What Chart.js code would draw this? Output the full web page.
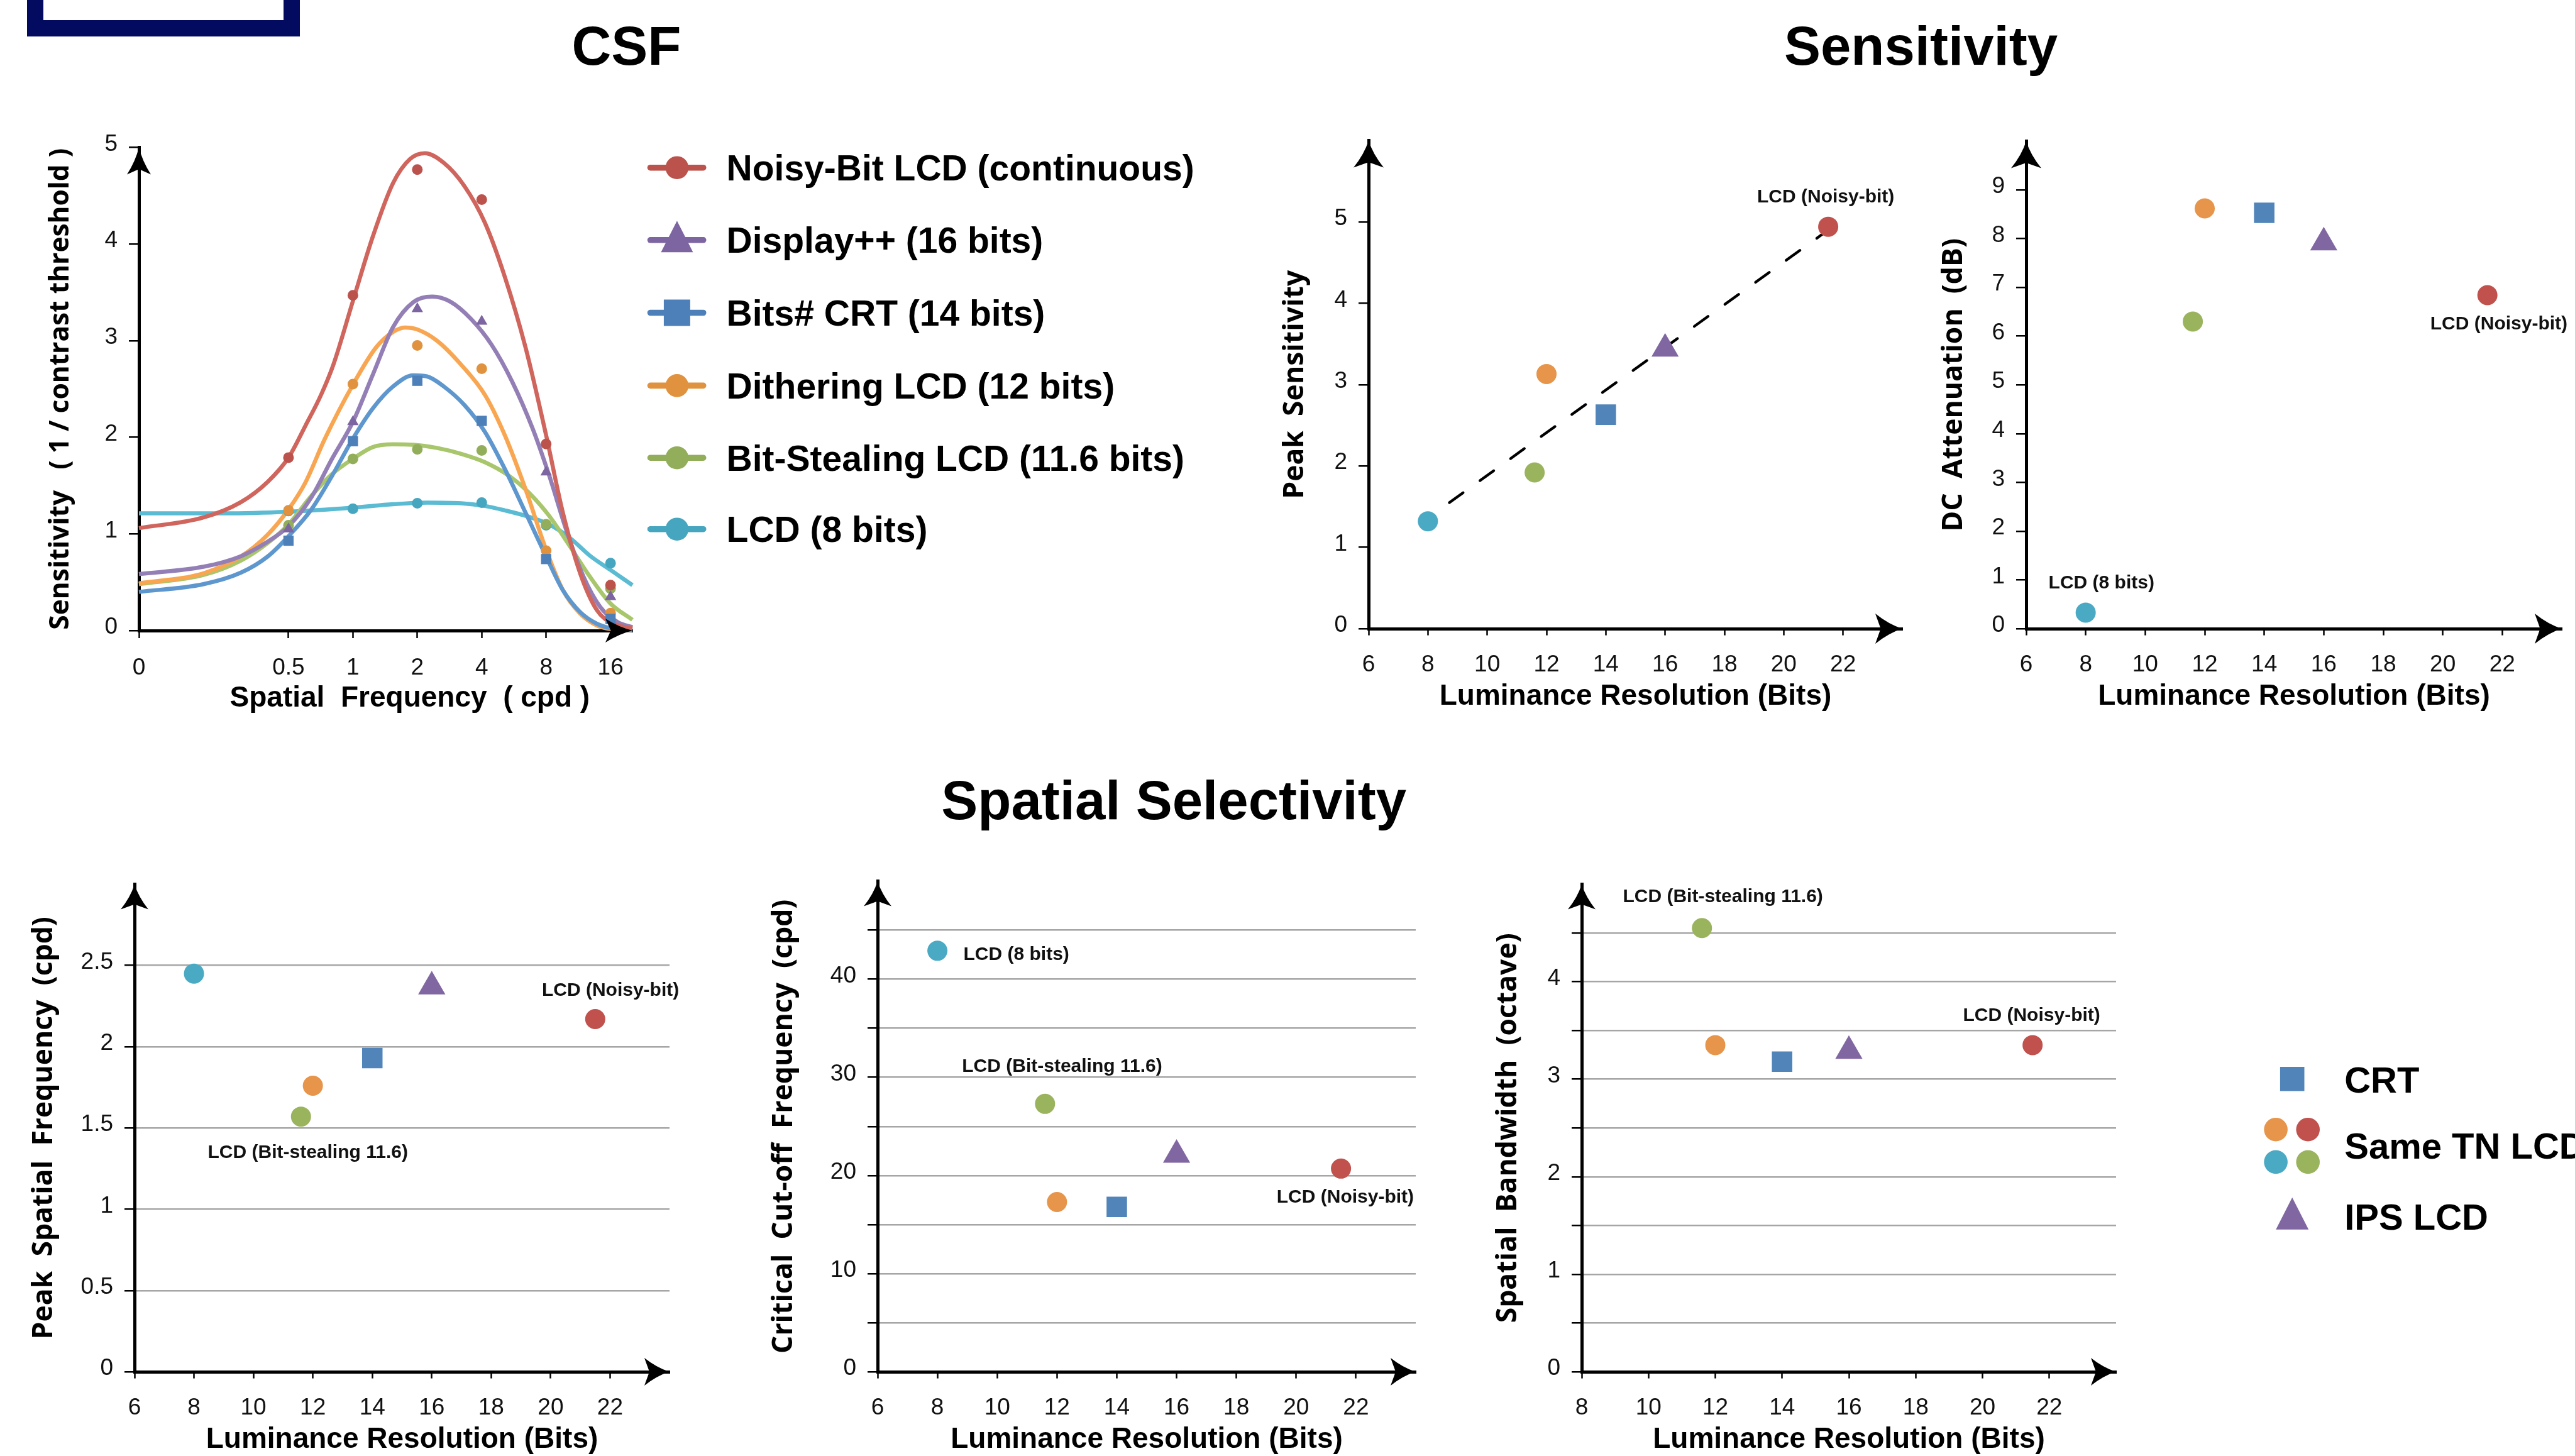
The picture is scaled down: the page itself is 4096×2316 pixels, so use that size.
<!DOCTYPE html>
<html>
<head>
<meta charset="utf-8">
<script src="https://cdn.jsdelivr.net/npm/chart.js@4.4.1/dist/chart.umd.min.js"></script>
<style>
  html, body { margin: 0; padding: 0; background: #fff; }
  #page { position: relative; width: 4096px; height: 2316px; overflow: hidden; background: #fff; }
  #overlay { position: absolute; left: 0; top: 0; }
  .panel { position: absolute; }
</style>
</head>
<body>
<div id="page">
  <canvas id="overlay" width="4096" height="2316"></canvas>
</div>
<script>
// ---------- data ----------

// CSF panel: x is spatial frequency (cpd, log axis), y is sensitivity
const csfFreqTicks = [0.1, 0.5, 1, 2, 4, 8, 16];
const csfFreqLabels = ['0', '0.5', '1', '2', '4', '8', '16'];
const csfSensTicks = [0, 1, 2, 3, 4, 5];
const csfSensLabels = ['0', '1', '2', '3', '4', '5'];

const csfNames = ['Noisy-Bit LCD (continuous)', 'Display++ (16 bits)', 'Bits# CRT (14 bits)',
                  'Dithering LCD (12 bits)', 'Bit-Stealing LCD (11.6 bits)', 'LCD (8 bits)'];

const measuredFreq = [0.5, 1, 2, 4, 8, 16];
const noisyMeasured    = [1.79, 3.47, 4.77, 4.46, 1.93, 0.47];
const displayMeasured  = [1.05, 2.16, 3.33, 3.20, 1.64, 0.35];
const crtMeasured      = [0.93, 1.96, 2.585, 2.17, 0.74, 0.12];
const ditherMeasured   = [1.244, 2.55, 2.95, 2.71, 0.826, 0.18];
const stealMeasured    = [1.09, 1.777, 1.875, 1.864, 1.10, 0.435];
const lcd8Measured     = [1.237, 1.26, 1.317, 1.324, 1.09, 0.697];

// fitted curves, [cpd, sensitivity]
const noisyFit = [[0.1,1.06],[0.2,1.17],[0.3,1.33],[0.4,1.54],[0.5,1.79],[0.6,2.12],[0.71,2.44],[0.81,2.75],
  [1,3.41],[1.24,4.08],[1.54,4.63],[1.85,4.88],[2.17,4.94],[2.66,4.84],[3.32,4.60],[4.14,4.22],[5.13,3.66],
  [6.41,2.93],[8,2.02],[9.58,1.22],[11.55,0.59],[13.83,0.21],[16.56,0.07],[20.25,0.02]];
const displayFit = [[0.1,0.585],[0.2,0.66],[0.3,0.77],[0.4,0.92],[0.5,1.08],[0.64,1.38],[0.8,1.78],[1,2.16],
  [1.24,2.65],[1.54,3.14],[1.92,3.40],[2.35,3.456],[2.87,3.40],[3.58,3.22],[4.44,2.96],[5.54,2.58],[6.92,2.09],
  [8.28,1.60],[9.92,1.045],[11.96,0.557],[14.32,0.244],[17.27,0.087],[20.25,0.035]];
const crtFit = [[0.1,0.40],[0.2,0.48],[0.3,0.60],[0.4,0.767],[0.5,0.976],[0.64,1.254],[0.8,1.603],[1,1.986],
  [1.24,2.30],[1.54,2.526],[1.92,2.641],[2.22,2.63],[2.66,2.526],[3.32,2.334],[4.14,2.056],[5.13,1.672],
  [6.41,1.22],[8,0.767],[9.58,0.418],[11.55,0.19],[13.83,0.07],[16.56,0.017],[20.25,0]];
const ditherFit = [[0.1,0.488],[0.2,0.592],[0.3,0.767],[0.4,0.993],[0.5,1.254],[0.6,1.533],[0.74,1.986],[1,2.544],
  [1.28,2.927],[1.54,3.09],[1.75,3.136],[1.99,3.118],[2.48,2.997],[3.2,2.753],[4.14,2.439],[5.13,2.021],
  [6.41,1.463],[8,0.836],[9.58,0.418],[11.55,0.174],[13.83,0.052],[16.56,0.01],[20.25,0]];
const stealFit = [[0.1,0.48],[0.2,0.575],[0.3,0.725],[0.4,0.906],[0.5,1.098],[0.64,1.394],[0.8,1.62],[1,1.777],
  [1.24,1.899],[1.54,1.927],[1.92,1.923],[2.48,1.889],[3.2,1.829],[4.14,1.742],[5.35,1.603],[6.63,1.429],
  [8.28,1.185],[10.34,0.871],[12.82,0.557],[16,0.279],[20.25,0.111]];
const lcd8Fit = [[0.1,1.213],[0.25,1.213],[0.5,1.23],[1,1.272],[1.54,1.307],[2.22,1.324],[3.2,1.317],[4.14,1.289],
  [5.13,1.244],[6.63,1.178],[8.28,1.098],[10.34,0.958],[12.82,0.774],[16,0.627],[20.25,0.47]];

// device panels: one value per device, in this order
const deviceBits = [8, 11.6, 12, 14, 16, 21.5];  // LCD 8, bit-stealing, dithering, CRT, Display++, noisy-bit
const peakSensitivity = [1.32, 1.92, 3.13, 2.63, 3.44, 4.94];
const dcAttenuation   = [0.33, 6.30, 8.62, 8.53, 7.92, 6.84];
const peakFrequency   = [2.45, 1.57, 1.76, 1.93, 2.37, 2.17];
const cutoffFrequency = [42.9, 27.3, 17.3, 16.8, 22.1, 20.7];
const bandwidthOctave = [null, 4.55, 3.35, 3.18, 3.29, 3.35];
const trendBits = [8, 21.5];
const trendSensitivity = [1.36, 4.90];

const bitsTicks = [6, 8, 10, 12, 14, 16, 18, 20, 22];
const bitsTicksF = [8, 10, 12, 14, 16, 18, 20, 22];
const peakSensTicks = [0, 1, 2, 3, 4, 5];
const dcTicks = [0, 1, 2, 3, 4, 5, 6, 7, 8, 9];
const peakFreqTicks = [0, 0.5, 1, 1.5, 2, 2.5];
const peakFreqLabels = ['0', '0.5', '1', '1.5', '2', '2.5'];
const cutoffTicks = [0, 5, 10, 15, 20, 25, 30, 35, 40, 45];
const cutoffLabels = ['0', '', '10', '', '20', '', '30', '', '40', ''];
const bandwidthTicks = [0, 0.5, 1, 1.5, 2, 2.5, 3, 3.5, 4, 4.5];
const bandwidthLabels = ['0', '', '1', '', '2', '', '3', '', '4', ''];

// ---------- styles ----------
const K = 2.61;                 // preview px -> page px
const SANS = '"Liberation Sans", Arial, Helvetica, sans-serif';
const WIDE = '"Open Sans", "DejaVu Sans", sans-serif';
const PAD_T = 30, PAD_R = 32, X_BOX = 138;

const csfLineColors = ['#cf655d', '#937fb5', '#5e96ce', '#f8a651', '#a8c66b', '#5abbd3'];
const csfMarkColors = ['#bb524b', '#7d65a1', '#4d7fb8', '#e0923f', '#92ae5a', '#46a6bf'];
const csfShapes = ['circle', 'triangle', 'rect', 'circle', 'circle', 'circle'];
const csfRadius = { circle: 8.5, triangle: 10.5, rect: 11.5 };

const deviceColors = ['#4aa9c3', '#9ab45e', '#e6954a', '#5184b9', '#8167a1', '#c0514d'];
const deviceShapes = ['circle', 'circle', 'circle', 'rect', 'triangle', 'circle'];
const deviceRadius = { circle: 16, triangle: 25, rect: 23 };

const page = document.getElementById('page');

function arrowHead(ctx, x, y, dx, dy, len, wid) {
  const px = -dy, py = dx;
  const bx = x - dx * len, by = y - dy * len;
  const mx = x - dx * len * 0.5, my = y - dy * len * 0.5;
  ctx.beginPath();
  ctx.moveTo(x, y);
  ctx.quadraticCurveTo(mx + px * wid * 0.14, my + py * wid * 0.14, bx + px * wid / 2, by + py * wid / 2);
  ctx.lineTo(x - dx * len * 0.8, y - dy * len * 0.8);
  ctx.lineTo(bx - px * wid / 2, by - py * wid / 2);
  ctx.quadraticCurveTo(mx - px * wid * 0.14, my - py * wid * 0.14, x, y);
  ctx.fill();
}

function arrows(len, wid) {
  return {
    id: 'arrows',
    afterDraw(chart) {
      const { ctx, chartArea: a } = chart;
      ctx.save();
      ctx.fillStyle = '#000';
      arrowHead(ctx, a.left, a.top, 0, -1, len, wid);
      arrowHead(ctx, a.right, a.bottom, 1, 0, len, wid);
      ctx.restore();
    }
  };
}

function notes(values, items) {
  return {
    id: 'notes',
    afterDatasetsDraw(chart) {
      const { ctx, scales } = chart;
      ctx.save();
      ctx.font = 'bold 30px ' + SANS;
      ctx.fillStyle = '#111';
      ctx.textAlign = 'center';
      ctx.textBaseline = 'middle';
      items.forEach(n => {
        const x = scales.x.getPixelForValue(deviceBits[n.i]) + n.dx * K;
        const y = scales.y.getPixelForValue(values[n.i]) + n.dy * K;
        ctx.fillText(n.text, x, y);
      });
      ctx.restore();
    }
  };
}

function xAxis(type, min, max, ticks, labels, title, tickLen) {
  return {
    type, min, max,
    afterBuildTicks: s => { s.ticks = ticks.map(v => ({ value: v })); },
    afterFit: s => { s.height = X_BOX; },
    ticks: { autoSkip: false, maxRotation: 0, minRotation: 0, padding: 29, color: '#111',
             font: { family: SANS, size: 37, lineHeight: 1 }, callback: (v, i) => labels[i] },
    grid: { drawOnChartArea: false, tickLength: tickLen, tickWidth: 2.5, tickColor: '#000' },
    border: { color: '#000', width: 5 },
    title: { display: true, text: title, color: '#000',
             font: { family: SANS, size: 46, weight: 'bold', lineHeight: 1 },
             padding: { top: 0, bottom: X_BOX - 108 - 23 } }
  };
}

function yAxis(max, ticks, labels, title, w, dist, gridOn, size = 44.5) {
  return {
    type: 'linear', min: 0, max,
    afterBuildTicks: s => { s.ticks = ticks.map(v => ({ value: v })); },
    afterFit: s => { s.width = w; },
    ticks: { autoSkip: false, padding: 18, labelOffset: -5, color: '#111',
             font: { family: SANS, size: 37, lineHeight: 1 }, callback: (v, i) => labels[i] },
    grid: { drawOnChartArea: gridOn, color: '#a6a6a6', lineWidth: 2.5,
            tickLength: 16, tickWidth: 2.5, tickColor: '#000' },
    border: { color: '#000', width: 5 },
    title: { display: true, text: title, color: '#000',
             font: { family: WIDE, size, weight: 'bold', lineHeight: 1 },
             padding: { top: w - dist - size / 2, bottom: 0 } }
  };
}

// geo is in preview px: chart area edges and y-title distance from the axis
function panel(geo, datasets, scales, plugins) {
  const left = Math.round(geo.l * K), top = Math.round(geo.t * K);
  const right = Math.round(geo.r * K), bottom = Math.round(geo.b * K);
  const dist = geo.title * K;
  const w = Math.round(dist + 32);
  const canvas = document.createElement('canvas');
  canvas.className = 'panel';
  canvas.width = right - left + w + PAD_R;
  canvas.height = bottom - top + PAD_T + X_BOX;
  canvas.style.left = (left - w) + 'px';
  canvas.style.top = (top - PAD_T) + 'px';
  page.appendChild(canvas);
  return new Chart(canvas, {
    type: 'scatter',
    data: { datasets },
    options: {
      responsive: false, animation: false, devicePixelRatio: 1, events: [],
      layout: { autoPadding: false, padding: { top: PAD_T, right: PAD_R, left: 0, bottom: 0 } },
      plugins: { legend: { display: false }, tooltip: { enabled: false } },
      scales: scales(w, dist)
    },
    plugins
  });
}

function deviceSets(values) {
  return deviceBits.map((b, i) => ({
    data: values[i] == null ? [] : [{ x: b, y: values[i] }],
    pointStyle: deviceShapes[i],
    pointRadius: deviceRadius[deviceShapes[i]],
    backgroundColor: deviceColors[i],
    borderWidth: 0,
    order: 1,
    clip: false
  }));
}

// ---------- CSF ----------
const csfFits = [noisyFit, displayFit, crtFit, ditherFit, stealFit, lcd8Fit];
const csfMeasured = [noisyMeasured, displayMeasured, crtMeasured, ditherMeasured, stealMeasured, lcd8Measured];
const csfSets = [];
csfFits.forEach((fit, i) => csfSets.push({
  data: fit.map(p => ({ x: p[0], y: p[1] })),
  showLine: true, pointRadius: 0, borderColor: csfLineColors[i], borderWidth: 6.5,
  cubicInterpolationMode: 'monotone', order: 2, clip: false
}));
csfMeasured.forEach((vals, i) => csfSets.push({
  data: measuredFreq.map((f, j) => ({ x: f, y: vals[j] })),
  pointStyle: csfShapes[i], pointRadius: csfRadius[csfShapes[i]],
  backgroundColor: csfMarkColors[i], borderWidth: 0, order: 1, clip: false
}));

// leading spaces push the centred title a little right, as in the figure
panel({ l: 84.6, t: 87.3, r: 385.5, b: 384.4, title: 47.5 }, csfSets,
  (w, d) => ({
    x: xAxis('logarithmic', 0.1, 20.25, csfFreqTicks, csfFreqLabels, '      Spatial  Frequency  ( cpd )', 12),
    y: yAxis(5, csfSensTicks, csfSensLabels, 'Sensitivity   ( 1 / contrast threshold )', w, d, false, 42.5)
  }), [arrows(43, 38)]);

// ---------- Sensitivity ----------
const trendSet = {
  data: trendBits.map((x, i) => ({ x, y: trendSensitivity[i] })),
  showLine: true, pointRadius: 0, borderColor: '#000', borderWidth: 4.3,
  borderDash: [27, 33], borderDashOffset: 18, borderCapStyle: 'round', order: 3
};
panel({ l: 834, t: 83, r: 1159.3, b: 383, title: 44.6 }, [trendSet].concat(deviceSets(peakSensitivity)),
  (w, d) => ({
    x: xAxis('linear', 6, 24, bitsTicks, bitsTicks.map(String), 'Luminance Resolution (Bits)', 10.6),
    y: yAxis(6, peakSensTicks, peakSensTicks.map(String), 'Peak  Sensitivity', w, d, false)
  }), [arrows(43, 48), notes(peakSensitivity, [{ i: 5, text: 'LCD (Noisy-bit)', dx: -1.5, dy: -18 }])]);

panel({ l: 1234.7, t: 83.6, r: 1561.3, b: 383, title: 43.8 }, deviceSets(dcAttenuation),
  (w, d) => ({
    x: xAxis('linear', 6, 24, bitsTicks, bitsTicks.map(String), 'Luminance Resolution (Bits)', 10.6),
    y: yAxis(10, dcTicks, dcTicks.map(String), 'DC  Attenuation  (dB)', w, d, false)
  }), [arrows(43, 48), notes(dcAttenuation, [
    { i: 0, text: 'LCD (8 bits)', dx: 9.6, dy: -18 },
    { i: 5, text: 'LCD (Noisy-bit)', dx: 7, dy: 17.6 }])]);

// ---------- Spatial selectivity ----------
panel({ l: 81.9, t: 536.3, r: 407.9, b: 836, title: 55.1 }, deviceSets(peakFrequency),
  (w, d) => ({
    x: xAxis('linear', 6, 24, bitsTicks, bitsTicks.map(String), 'Luminance Resolution (Bits)', 10.6),
    y: yAxis(3, peakFreqTicks, peakFreqLabels, 'Peak  Spatial  Frequency  (cpd)', w, d, true)
  }), [arrows(40, 44), notes(peakFrequency, [
    { i: 5, text: 'LCD (Noisy-bit)', dx: 9.3, dy: -17.4 },
    { i: 1, text: 'LCD (Bit-stealing 11.6)', dx: 4.2, dy: 22.1 }])]);

panel({ l: 534.9, t: 534.5, r: 862.9, b: 836, title: 57 }, deviceSets(cutoffFrequency),
  (w, d) => ({
    x: xAxis('linear', 6, 24, bitsTicks, bitsTicks.map(String), 'Luminance Resolution (Bits)', 10.6),
    y: yAxis(50, cutoffTicks, cutoffLabels, 'Critical  Cut-off  Frequency  (cpd)', w, d, true)
  }), [arrows(40, 44), notes(cutoffFrequency, [
    { i: 0, text: 'LCD (8 bits)', dx: 48.1, dy: 2.4 },
    { i: 1, text: 'LCD (Bit-stealing 11.6)', dx: 10.4, dy: -22.8 },
    { i: 5, text: 'LCD (Noisy-bit)', dx: 2.6, dy: 17.7 }])]);

panel({ l: 964, t: 536.5, r: 1289.5, b: 836, title: 44.8 }, deviceSets(bandwidthOctave),
  (w, d) => ({
    x: xAxis('linear', 8, 24, bitsTicksF, bitsTicksF.map(String), 'Luminance Resolution (Bits)', 10.6),
    y: yAxis(5, bandwidthTicks, bandwidthLabels, 'Spatial  Bandwidth  (octave)', w, d, true)
  }), [arrows(40, 44), notes(bandwidthOctave, [
    { i: 1, text: 'LCD (Bit-stealing 11.6)', dx: 12.8, dy: -19.1 },
    { i: 5, text: 'LCD (Noisy-bit)', dx: -0.6, dy: -17.7 }])]);

// ---------- titles, legends, frame ----------
function mark(c, kind, x, y, s, color) {
  c.fillStyle = color;
  c.beginPath();
  if (kind === 'circle') c.arc(x, y, s, 0, Math.PI * 2);
  else if (kind === 'rect') c.rect(x - s / 2, y - s / 2, s, s);
  else { c.moveTo(x, y - s * 0.6); c.lineTo(x + s / 2, y + s * 0.38); c.lineTo(x - s / 2, y + s * 0.38); c.closePath(); }
  c.fill();
}

function drawOverlay() {
  const c = document.getElementById('overlay').getContext('2d');
  c.fillStyle = '#020b5f';
  c.fillRect(43, -60, 434, 118);
  c.fillStyle = '#fff';
  c.fillRect(69, -60, 382, 92);

  c.fillStyle = '#000';
  c.textAlign = 'center';
  c.font = 'bold 87px ' + SANS;
  c.fillText('CSF', 996.5, 71.8 + 31.1);
  c.fillText('Sensitivity', 3055.5, 71.8 + 31.1);
  c.fillText('Spatial Selectivity', 1867.2, 1271.9 + 31.1);

  const rows = [266.7, 381.8, 497.5, 613.4, 728.2, 841.7];
  const legendSize = { circle: 18.3, rect: 42, triangle: 51 };
  rows.forEach((y, i) => {
    c.strokeStyle = csfMarkColors[i];
    c.lineWidth = 9.6;
    c.lineCap = 'round';
    c.beginPath();
    c.moveTo(1034.5, y);
    c.lineTo(1118.7, y);
    c.stroke();
    mark(c, csfShapes[i], 1076.9, y, legendSize[csfShapes[i]], csfMarkColors[i]);
    c.fillStyle = '#000';
    c.textAlign = 'left';
    c.font = 'bold 57px ' + SANS;
    c.fillText(csfNames[i], 1155.6, y + 20.4);
  });

  mark(c, 'rect', 3646.2, 1716.3, 38.6, deviceColors[3]);
  mark(c, 'circle', 3620.1, 1796.7, 18.8, deviceColors[2]);
  mark(c, 'circle', 3671.2, 1796.7, 18.8, deviceColors[5]);
  mark(c, 'circle', 3620.1, 1848.4, 18.8, deviceColors[0]);
  mark(c, 'circle', 3671.2, 1848.4, 18.8, deviceColors[1]);
  mark(c, 'triangle', 3646.2, 1935.9, 52, deviceColors[4]);
  c.fillStyle = '#000';
  c.textAlign = 'left';
  c.font = 'bold 58px ' + SANS;
  c.fillText('CRT', 3729.2, 1716.9 + 20.8);
  c.fillText('Same TN LCD', 3729.2, 1822.1 + 20.8);
  c.fillText('IPS LCD', 3729.2, 1934.8 + 20.8);
}
drawOverlay();
</script>
</body>
</html>
